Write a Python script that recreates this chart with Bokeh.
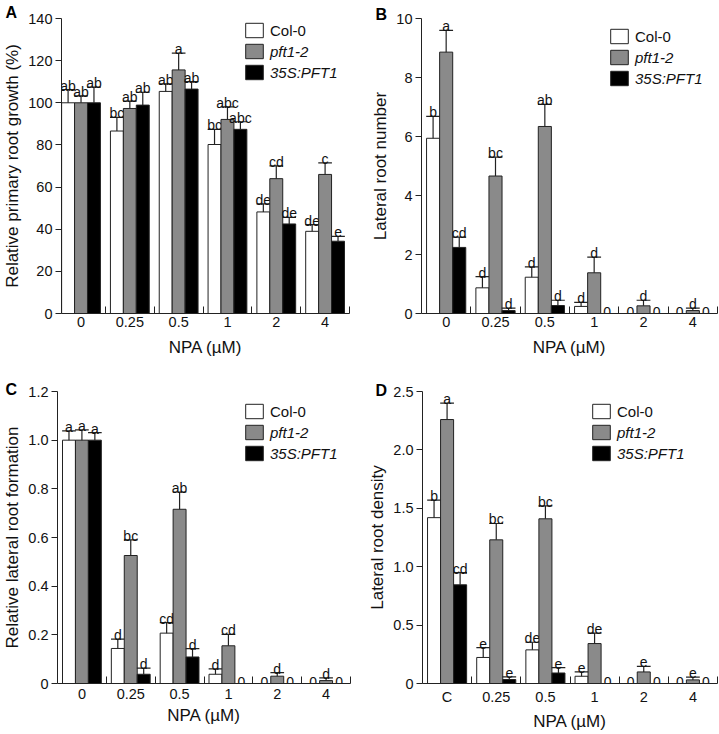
from bokeh.plotting import figure
from bokeh.models import ColumnDataSource, FixedTicker, Legend, LegendItem, Range1d
from bokeh.layouts import row, column
from bokeh.transform import dodge
from bokeh.core.properties import value
from bokeh.embed import file_html
from bokeh.resources import INLINE

FONT = "Liberation Sans"

genotypes = ["Col-0", "pft1-2", "35S:PFT1"]
npa = ["0", "0.25", "0.5", "1", "2", "4"]
npa_d = ["C", "0.25", "0.5", "1", "2", "4"]

# Panel A: relative primary root growth (%)
a_col = [100, 86.6, 105.4, 80.2, 48.2, 39.0]
a_col_err = [6.3, 6.5, 3.6, 7.2, 3.8, 3.2]
a_col_lab = ["ab", "bc", "ab", "bc", "de", "de"]
a_pft = [100, 97.3, 115.6, 92.1, 64.0, 66.0]
a_pft_err = [3.3, 3.5, 8.0, 6.0, 6.1, 5.5]
a_pft_lab = ["ab", "ab", "a", "abc", "cd", "c"]
a_oe = [100, 98.9, 106.5, 87.4, 42.5, 34.3]
a_oe_err = [7.4, 6.1, 3.5, 3.6, 3.1, 2.3]
a_oe_lab = ["ab", "ab", "ab", "abc", "de", "e"]
a_ticks = [0, 20, 40, 60, 80, 100, 120, 140]
a_tick_labels = ["0", "20", "40", "60", "80", "100", "120", "140"]

# Panel B: lateral root number
b_col = [5.94, 0.87, 1.23, 0.24, 0, 0]
b_col_err = [0.74, 0.38, 0.35, 0.14, 0, 0]
b_col_lab = ["b", "d", "d", "d", "0", "0"]
b_pft = [8.86, 4.66, 6.34, 1.38, 0.26, 0.10]
b_pft_err = [0.74, 0.64, 0.75, 0.53, 0.19, 0.08]
b_pft_lab = ["a", "bc", "ab", "d", "d", "d"]
b_oe = [2.24, 0.10, 0.27, 0, 0, 0]
b_oe_err = [0.35, 0.08, 0.18, 0, 0, 0]
b_oe_lab = ["cd", "d", "d", "0", "0", "0"]
b_ticks = [0, 2, 4, 6, 8, 10]
b_tick_labels = ["0", "2", "4", "6", "8", "10"]

# Panel C: relative lateral root formation
c_col = [1.0, 0.144, 0.207, 0.038, 0, 0]
c_col_err = [0.038, 0.038, 0.043, 0.022, 0, 0]
c_col_lab = ["a", "d", "cd", "d", "0", "0"]
c_pft = [1.0, 0.526, 0.716, 0.155, 0.030, 0.012]
c_pft_err = [0.042, 0.064, 0.071, 0.047, 0.015, 0.011]
c_pft_lab = ["a", "bc", "ab", "cd", "d", "d"]
c_oe = [1.0, 0.038, 0.109, 0, 0, 0]
c_oe_err = [0.031, 0.025, 0.034, 0, 0, 0]
c_oe_lab = ["a", "d", "d", "0", "0", "0"]
c_ticks = [0, 0.2, 0.4, 0.6, 0.8, 1.0, 1.2]
c_tick_labels = ["0", "0.2", "0.4", "0.6", "0.8", "1.0", "1.2"]

# Panel D: lateral root density
d_col = [1.42, 0.223, 0.288, 0.062, 0, 0]
d_col_err = [0.15, 0.085, 0.065, 0.038, 0, 0]
d_col_lab = ["b", "e", "de", "e", "0", "0"]
d_pft = [2.26, 1.23, 1.41, 0.342, 0.099, 0.031]
d_pft_err = [0.14, 0.14, 0.11, 0.09, 0.048, 0.023]
d_pft_lab = ["a", "bc", "bc", "de", "e", "e"]
d_oe = [0.845, 0.034, 0.09, 0, 0, 0]
d_oe_err = [0.105, 0.022, 0.046, 0, 0, 0]
d_oe_lab = ["cd", "e", "e", "0", "0", "0"]
d_ticks = [0, 0.5, 1.0, 1.5, 2.0, 2.5]
d_tick_labels = ["0", "0.5", "1.0", "1.5", "2.0", "2.5"]

FILLS = ["white", "#8a8a8a", "black"]
LINE = "#222222"
BW = 0.265
CAP = 0.28


def make_panel(letter, cats, series, ylabel, yticks, ytick_labels,
               w, h, L, R, T, B, xstart, leg_xy, letter_off, letter_standoff,
               tick_standoff, xlab_standoff):
    fh = h - T - B
    p = figure(width=w, height=h, output_backend="svg", toolbar_location=None,
               x_range=Range1d(xstart, len(cats) - 0.5),
               y_range=Range1d(0, yticks[-1]),
               min_border_left=L, min_border_right=R,
               min_border_top=T, min_border_bottom=B)
    p.outline_line_color = None
    p.grid.visible = False

    xs = list(range(len(cats)))
    offsets = [-BW, 0.0, BW]
    rends = []
    for k, (vals, errs, labs) in enumerate(series):
        off = offsets[k]
        src = ColumnDataSource(dict(x=xs, top=vals))
        r = p.vbar(x=dodge("x", off), top="top", width=BW, source=src,
                   fill_color=FILLS[k], line_color=LINE, line_width=1)
        rends.append(r)
        nz = [i for i in xs if vals[i] > 0]
        esrc = ColumnDataSource(dict(
            x=[xs[i] for i in nz],
            lo=[vals[i] for i in nz],
            hi=[vals[i] + errs[i] for i in nz],
            lab=[labs[i] for i in nz]))
        p.segment(x0=dodge("x", off), x1=dodge("x", off), y0="lo", y1="hi",
                  source=esrc, line_color=LINE, line_width=1.2)
        p.segment(x0=dodge("x", off - CAP / 2), x1=dodge("x", off + CAP / 2),
                  y0="hi", y1="hi", source=esrc, line_color=LINE, line_width=1.2)
        p.text(x=dodge("x", off), y="hi", text="lab", source=esrc,
               text_align="center", text_baseline="alphabetic", y_offset=-4,
               text_font=value(FONT), text_font_size="14px", text_color="#111111")
        z = [i for i in xs if vals[i] == 0]
        if z:
            zsrc = ColumnDataSource(dict(x=[xs[i] for i in z], y=[vals[i] for i in z],
                                         lab=[labs[i] for i in z]))
            p.text(x=dodge("x", off), y="y", text="lab", source=zsrc,
                   text_align="center", text_baseline="alphabetic", y_offset=-2,
                   text_font=value(FONT), text_font_size="14px", text_color="#111111")

    xa = p.xaxis[0]
    xa.ticker = FixedTicker(ticks=xs, minor_ticks=[i + 0.5 for i in xs])
    xa.major_label_overrides = {i: c for i, c in zip(xs, cats)}
    xa.major_tick_in = 0
    xa.major_tick_out = 0
    xa.minor_tick_in = 7
    xa.minor_tick_out = 0
    xa.major_label_standoff = tick_standoff
    xa.axis_label = "NPA (µM)"
    xa.axis_label_standoff = xlab_standoff

    ya = p.yaxis[0]
    ya.ticker = FixedTicker(ticks=yticks, minor_ticks=[])
    ya.major_label_overrides = {t: s for t, s in zip(yticks, ytick_labels)}
    ya.major_tick_in = 0
    ya.major_tick_out = 6
    ya.major_label_standoff = 3
    ya.axis_label = ylabel
    ya.axis_label_standoff = 3

    for ax in (xa, ya):
        ax.axis_line_color = LINE
        ax.axis_line_width = 1
        ax.major_tick_line_color = LINE
        ax.minor_tick_line_color = LINE
        ax.major_label_text_font = FONT
        ax.major_label_text_font_size = "14.5px"
        ax.major_label_text_color = "#111111"
        ax.axis_label_text_font = FONT
        ax.axis_label_text_font_size = "17px"
        ax.axis_label_text_font_style = "normal"
        ax.axis_label_text_color = "#111111"

    lx, ly = leg_xy
    common = dict(padding=0, margin=0, spacing=3, glyph_width=22, glyph_height=18,
                  label_height=18, label_standoff=5, border_line_color=None,
                  background_fill_alpha=0, label_text_font=FONT,
                  label_text_font_size="15px", label_text_color="#111111")
    leg1 = Legend(items=[LegendItem(label=genotypes[0], renderers=[rends[0]])],
                  location=(lx, fh - ly - 18), **common)
    leg2 = Legend(items=[LegendItem(label=genotypes[1], renderers=[rends[1]]),
                         LegendItem(label=genotypes[2], renderers=[rends[2]])],
                  location=(lx, fh - ly - 21 - 39), label_text_font_style="italic",
                  **common)
    p.add_layout(leg1)
    p.add_layout(leg2)

    p.title.text = letter
    p.title.align = "left"
    p.title.offset = letter_off
    p.title.standoff = letter_standoff
    p.title.vertical_align = "bottom"
    p.title.text_font = FONT
    p.title.text_font_style = "bold"
    p.title.text_font_size = "16px"
    p.title.text_color = "black"
    return p


pA = make_panel("A", npa,
                [(a_col, a_col_err, a_col_lab), (a_pft, a_pft_err, a_pft_lab),
                 (a_oe, a_oe_err, a_oe_lab)],
                "Relative primary root growth (%)", a_ticks, a_tick_labels,
                360, 366, 59, 11, 18, 53, -0.4, (182, 3), -56, -5, 3, 8)
pB = make_panel("B", npa,
                [(b_col, b_col_err, b_col_lab), (b_pft, b_pft_err, b_pft_lab),
                 (b_oe, b_oe_err, b_oe_lab)],
                "Lateral root number", b_ticks, b_tick_labels,
                359, 366, 61, 2, 18, 53, -0.5, (187, 9), -46, -9, 3, 8)
pC = make_panel("C", npa,
                [(c_col, c_col_err, c_col_lab), (c_pft, c_pft_err, c_pft_lab),
                 (c_oe, c_oe_err, c_oe_lab)],
                "Relative lateral root formation", c_ticks, c_tick_labels,
                360, 368, 55, 10, 25, 51, -0.5, (186, 11), -52, -12, 5, 4)
pD = make_panel("D", npa_d,
                [(d_col, d_col_err, d_col_lab), (d_pft, d_pft_err, d_pft_lab),
                 (d_oe, d_oe_err, d_oe_lab)],
                "Lateral root density", d_ticks, d_tick_labels,
                359, 368, 62, 2, 25, 51, -0.5, (168, 11), -47, -14, 5, 4)

layout = column(row(pA, pB, spacing=0), row(pC, pD, spacing=0), spacing=0)

with open("out.html", "w") as f:
    f.write(file_html(layout, INLINE))
